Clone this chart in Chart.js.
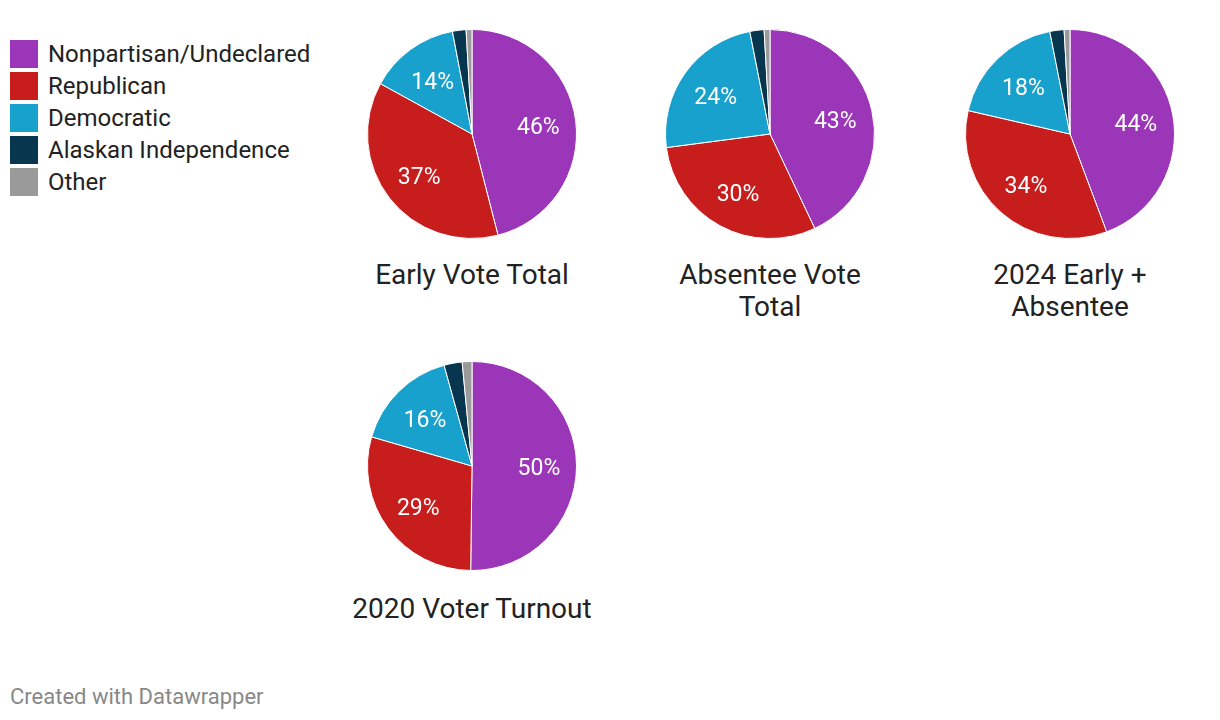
<!DOCTYPE html>
<html lang="en">
<head>
  <meta charset="UTF-8">
  <title>Party registration of voters</title>
  <script src="https://cdn.jsdelivr.net/npm/chart.js"></script>
</head>
<style>
  body { margin: 0; background: #fff; font-family: Roboto, "Noto Sans", sans-serif; color: #1d1d1d; }
  .wrap { position: relative; width: 1220px; height: 720px; }
  .pie { position: absolute; width: 210px; height: 210px; }
  .title { position: absolute; width: 300px; text-align: center; font-size: 28px; line-height: 32px; color: #222; }
  #legend { position: absolute; left: 10px; top: 40px; }
  .item { height: 32px; display: flex; align-items: flex-start; font-size: 24px; line-height: 28px; color: #222; }
  .box { width: 28px; height: 28px; margin-right: 10px; flex: none; }
  .foot { position: absolute; left: 10px; top: 684px; font-size: 22px; color: #888; }
</style>
<body>
<div class="wrap">
  <div id="legend"></div>

  <div class="pie" style="left:367px;top:29px"><canvas id="pie1" width="210" height="210"></canvas></div>
  <div class="pie" style="left:665px;top:29px"><canvas id="pie2" width="210" height="210"></canvas></div>
  <div class="pie" style="left:965px;top:29px"><canvas id="pie3" width="210" height="210"></canvas></div>
  <div class="pie" style="left:367px;top:361px"><canvas id="pie4" width="210" height="210"></canvas></div>

  <div class="title" style="left:322px;top:259px">Early Vote Total</div>
  <div class="title" style="left:620px;top:259px">Absentee Vote<br>Total</div>
  <div class="title" style="left:920px;top:259px">2024 Early +<br>Absentee</div>
  <div class="title" style="left:322px;top:593px">2020 Voter Turnout</div>

  <div class="foot">Created with Datawrapper</div>
</div>

<script>
  const parties = ['Nonpartisan/Undeclared', 'Republican', 'Democratic', 'Alaskan Independence', 'Other'];
  const colors = ['#9b36b8', '#c71e1d', '#18a1cd', '#09364f', '#9a9a9a'];

  // shares in percent, same order as parties
  const earlyVote = [46, 37, 14, 2.1, 0.9];
  const absenteeVote = [43, 30, 24, 2.2, 0.9];
  const earlyPlusAbsentee = [44.3, 34.3, 18.3, 2.2, 0.9];
  const turnout2020 = [50.2, 29.3, 16.2, 2.8, 1.5];

  // legend
  const legend = document.getElementById('legend');
  parties.forEach((p, i) => {
    const row = document.createElement('div');
    row.className = 'item';
    row.innerHTML = '<span class="box" style="background:' + colors[i] + '"></span>' + p;
    legend.appendChild(row);
  });

  // percentage labels inside the big slices
  const sliceLabels = {
    id: 'sliceLabels',
    afterDatasetsDraw(chart) {
      const ctx = chart.ctx;
      const meta = chart.getDatasetMeta(0);
      const values = chart.data.datasets[0].data;
      ctx.save();
      ctx.font = '23px Roboto';
      ctx.fillStyle = '#fff';
      ctx.textAlign = 'center';
      ctx.textBaseline = 'middle';
      meta.data.forEach((arc, i) => {
        if (values[i] < 5) return;
        const a = (arc.startAngle + arc.endAngle) / 2;
        const r = arc.outerRadius * 0.64;
        ctx.fillText(Math.round(values[i]) + '%', arc.x + Math.cos(a) * r, arc.y + Math.sin(a) * r + 3);
      });
      ctx.restore();
    }
  };

  function makePie(id, values) {
    return new Chart(document.getElementById(id), {
      type: 'pie',
      data: {
        labels: parties,
        datasets: [{
          data: values,
          backgroundColor: colors,
          borderColor: '#fff',
          borderWidth: 1
        }]
      },
      options: {
        responsive: false,
        animation: false,
        plugins: {
          legend: { display: false },
          tooltip: { enabled: false }
        }
      },
      plugins: [sliceLabels]
    });
  }

  makePie('pie1', earlyVote);
  makePie('pie2', absenteeVote);
  makePie('pie3', earlyPlusAbsentee);
  makePie('pie4', turnout2020);
</script>
</body>
</html>
